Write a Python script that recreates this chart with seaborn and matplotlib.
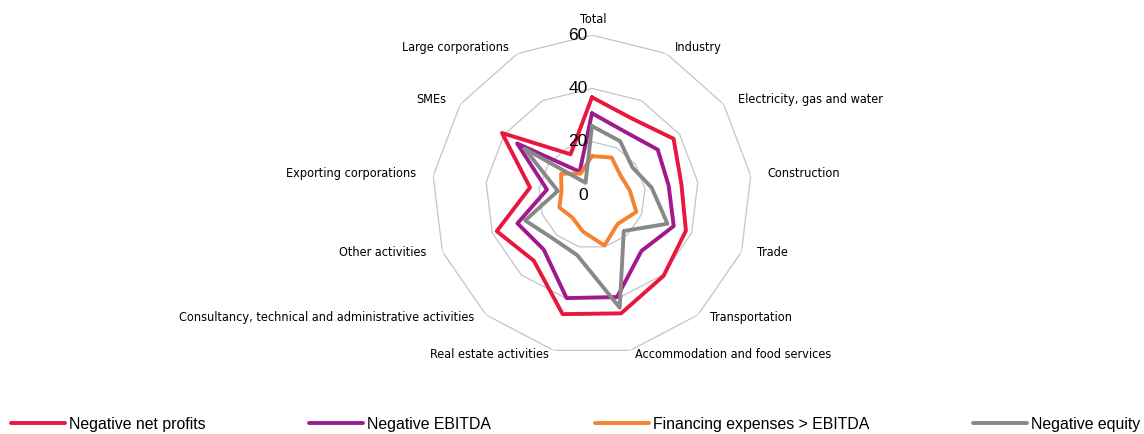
import numpy as np
import pandas as pd
import matplotlib
matplotlib.use("Agg")
import matplotlib.pyplot as plt
import seaborn as sns

# share of corporations (%) by sector / group
categories = ["Total", "Industry", "Electricity, gas and water", "Construction", "Trade",
              "Transportation", "Accommodation and food services", "Real estate activities",
              "Consultancy, technical and administrative activities", "Other activities",
              "Exporting corporations", "SMEs", "Large corporations"]
net_profits = [36.7, 32.4, 37.2, 33.8, 37.7, 40.5, 45.7, 46.0, 32.9, 38.2, 23.4, 41.0, 17.3]
ebitda = [30.7, 26.8, 30.0, 29.0, 32.8, 28.0, 39.4, 39.8, 27.3, 29.9, 17.0, 34.1, 9.9]
fin_exp = [14.6, 15.9, 13.0, 14.3, 17.8, 14.5, 19.5, 14.1, 11.2, 13.1, 11.5, 14.1, 9.1]
neg_equity = [25.9, 22.8, 18.4, 22.6, 30.3, 18.0, 43.5, 23.2, 21.9, 26.8, 12.9, 30.7, 5.2]

series_names = ["Negative net profits", "Negative EBITDA", "Financing expenses > EBITDA", "Negative equity"]
series_colors = ["#E8173F", "#A01A8E", "#F5822F", "#888888"]
rings = [20, 40, 60]


def main():
    sns.set_theme(style="white")
    plt.rcParams['font.family'] = ['Liberation Sans', 'DejaVu Sans']

    n = len(categories)
    theta = np.linspace(0, 2 * np.pi, n, endpoint=False)
    theta_closed = np.append(theta, theta[0])

    rows = []
    for name, vals in zip(series_names, [net_profits, ebitda, fin_exp, neg_equity]):
        closed = list(vals) + [vals[0]]
        for t, v in zip(theta_closed, closed):
            rows.append({"theta": t, "value": v, "series": name})
    df = pd.DataFrame(rows)

    fig = plt.figure(figsize=(11.44, 4.34), dpi=100)
    ax = fig.add_axes([0.3776, 0.182, 0.2797, 0.737], projection='polar')
    ax.set_theta_zero_location('N')
    ax.set_theta_direction(-1)
    ax.set_ylim(0, 60)
    ax.grid(False)
    ax.spines['polar'].set_visible(False)
    ax.set_xticks([])
    ax.set_yticks([])
    ax.set_facecolor('none')

    # polygon grid rings
    for v in rings:
        ax.plot(theta_closed, [v] * len(theta_closed), color='#C4C4C4', lw=0.9, zorder=1)

    sns.lineplot(data=df, x="theta", y="value", hue="series", palette=series_colors,
                 hue_order=series_names, sort=False, estimator=None, lw=2.8, ax=ax, zorder=3)
    handles, labels = ax.get_legend_handles_labels()
    ax.legend_.remove()
    ax.set_xlabel("")
    ax.set_ylabel("")

    # radial value labels
    for v in [0] + rings:
        ax.annotate(str(v), xy=(0, v), xytext=(-3, 0), textcoords='offset points',
                    ha='right', va='center', fontsize=12.5, color='black')

    # category labels, nudged out from the outer ring
    for t, lab in zip(theta, categories):
        s, c = np.sin(t), np.cos(t)
        if abs(s) < 1e-6:
            ha, off = 'center', (1, 16)
        else:
            ha = 'left' if s > 0 else 'right'
            off = (16 * s + np.sign(s), 5.4 * c + 1.6)
        ax.annotate(lab, xy=(t, 60), xytext=off, textcoords='offset pixels',
                    ha=ha, va='center', fontsize=9.1, color='black',
                    family='DejaVu Sans', fontstretch='condensed')

    leg = fig.legend(handles, labels, loc='center', bbox_to_anchor=(0.004, 0.0, 0.998, 0.046),
                     mode='expand', ncol=4, frameon=False, fontsize=11.4, handlelength=3.4,
                     handletextpad=0.25, borderaxespad=0)
    for h in leg.get_lines():
        h.set_linewidth(2.8)
    for txt in leg.get_texts():
        txt.set_color('black')

    fig.savefig("out.png", dpi=100)
    plt.close()


if __name__ == '__main__':
    main()
